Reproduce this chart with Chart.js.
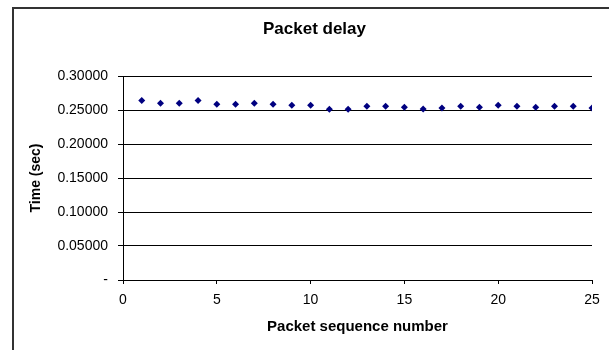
<!DOCTYPE html>
<html>
<head>
<meta charset="utf-8">
<script src="https://cdn.jsdelivr.net/npm/chart.js@4/dist/chart.umd.min.js"></script>
<style>
    html, body { margin: 0; padding: 0; background: #fff; overflow: hidden; }
    #frame {
        position: absolute; left: 12px; top: 7px; width: 700px; height: 400px;
        border: 2px solid #333; box-sizing: border-box;
    }
    #wrap { position: absolute; left: 0; top: 0; width: 609px; height: 350px; }
</style>
</head>
<body>
<div id="frame"></div>
<div id="wrap"><canvas id="delay" width="609" height="350"></canvas></div>
<script>
/* 数据：包序号与延迟（秒） */
const seqNumbers = [1, 2, 3, 4, 5, 6, 7, 8, 9, 10, 11, 12, 13, 14, 15, 16, 17, 18, 19, 20, 21, 22, 23, 24, 25];
const delaySec = [0.2638, 0.2600, 0.2600, 0.2638, 0.2585, 0.2585, 0.2600, 0.2585, 0.2570, 0.2570,
                  0.2510, 0.2510, 0.2555, 0.2555, 0.2540, 0.2515, 0.2530, 0.2555, 0.2540, 0.2570,
                  0.2555, 0.2540, 0.2555, 0.2555, 0.2530];
const xTicks = [0, 5, 10, 15, 20, 25];
const yTicks = [0, 0.05, 0.10, 0.15, 0.20, 0.25, 0.30];

const FONT = 'Arial, "Liberation Sans", sans-serif';

const points = seqNumbers.map((x, i) => ({ x, y: delaySec[i] }));

new Chart(document.getElementById('delay').getContext('2d'), {
    type: 'scatter',
    data: {
        datasets: [{
            label: 'Packet delay',
            data: points,
            pointStyle: 'rectRot',
            pointRadius: 3.5,
            pointHoverRadius: 3.5,
            backgroundColor: '#000080',
            borderColor: '#000080',
            borderWidth: 0
        }]
    },
    options: {
        responsive: false,
        animation: false,
        layout: { padding: { left: 20, right: 0, top: 0, bottom: 0 } },
        plugins: {
            legend: { display: false },
            tooltip: { enabled: false },
            title: {
                display: true,
                text: 'Packet delay',
                color: '#000',
                font: { family: FONT, size: 17, weight: 'bold' },
                padding: { top: 19, bottom: 36.6 }
            }
        },
        scales: {
            x: {
                type: 'linear',
                min: 0, max: 25,
                afterBuildTicks: s => { s.ticks = xTicks.map(v => ({ value: v })); },
                afterFit: s => { s.height = 70; },
                grid: { drawOnChartArea: false, drawTicks: true, tickLength: 4, color: '#000' },
                border: { color: '#000', width: 1 },
                ticks: { color: '#000', font: { family: FONT, size: 14 }, padding: 8, maxRotation: 0 },
                title: {
                    display: true,
                    text: 'Packet sequence number',
                    color: '#000',
                    font: { family: FONT, size: 15, weight: 'bold' },
                    padding: { top: 0, bottom: 14 }
                }
            },
            y: {
                type: 'linear',
                min: 0, max: 0.3,
                afterBuildTicks: s => { s.ticks = yTicks.map(v => ({ value: v })); },
                afterFit: s => { s.width = 103; },
                grid: { drawOnChartArea: true, drawTicks: true, tickLength: 5, color: '#000' },
                border: { color: '#000', width: 1 },
                ticks: {
                    color: '#000',
                    font: { family: FONT, size: 14 },
                    padding: 10,
                    callback: v => v === 0 ? '-' : v.toFixed(5)
                },
                title: {
                    display: true,
                    text: 'Time (sec)',
                    color: '#000',
                    font: { family: FONT, size: 14, weight: 'bold' },
                    padding: { top: 8.2, bottom: 0 }
                }
            },
            // 右侧占位轴：让标题居中于整个图框
            pad: {
                type: 'linear',
                position: 'right',
                display: true,
                afterFit: s => { s.width = 17; },
                grid: { display: false },
                border: { display: false },
                ticks: { display: false }
            }
        }
    }
});
</script>
</body>
</html>
